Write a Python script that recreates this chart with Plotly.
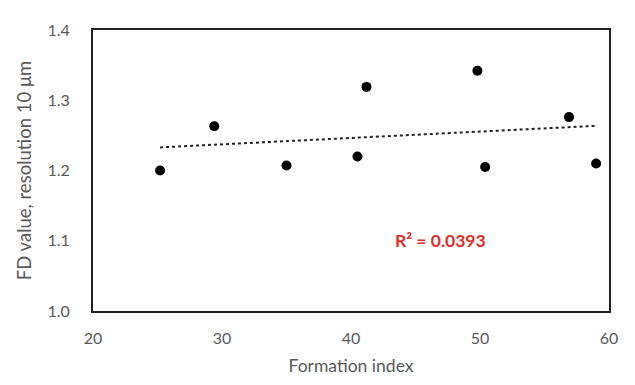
import numpy as np
import plotly.graph_objects as go

formation_index = [25.2, 29.4, 35.0, 40.5, 41.2, 49.8, 50.4, 56.9, 59.0]
fd_value = [1.200, 1.263, 1.207, 1.220, 1.319, 1.342, 1.205, 1.276, 1.210]
x_ticks = [20, 30, 40, 50, 60]
y_ticks = [1.0, 1.1, 1.2, 1.3, 1.4]
r2_label = "R² = 0.0393"

slope, intercept = np.polyfit(formation_index, fd_value, 1)
tx = [min(formation_index), max(formation_index)]
ty = [slope * v + intercept for v in tx]

fig = go.Figure()
fig.add_trace(go.Scatter(x=tx, y=ty, mode="lines",
                         line=dict(color="#222222", width=2, dash="dot"),
                         hoverinfo="skip", showlegend=False))
fig.add_trace(go.Scatter(x=formation_index, y=fd_value, mode="markers",
                         marker=dict(color="black", size=10),
                         showlegend=False))

fig.add_annotation(x=46.9, y=1.101, text="<b>" + r2_label + "</b>", showarrow=False,
                   font=dict(color="#e0302a", size=17.5, family="Lato"))

tick_font = dict(family="Lato", size=16, color="#595959")
fig.update_layout(
    width=622, height=377,
    margin=dict(l=85, r=15, t=19, b=70),
    paper_bgcolor="white", plot_bgcolor="white",
    font=dict(family="Lato", color="#595959"),
    xaxis=dict(range=[20, 60], tickvals=x_ticks, ticktext=[str(v) for v in x_ticks],
               showgrid=False, zeroline=False, showline=True, linecolor="#222222",
               linewidth=2, mirror=True, ticks="outside", ticklen=12, tickcolor="rgba(0,0,0,0)",
               tickfont=tick_font,
               title=dict(text="Formation index", font=dict(family="Lato", size=17.5, color="#595959"), standoff=14)),
    yaxis=dict(range=[1.0, 1.4], tickvals=y_ticks, ticktext=[f"{v:.1f}" for v in y_ticks],
               showgrid=False, zeroline=False, showline=True, linecolor="#222222",
               linewidth=2, mirror=True, ticks="outside", ticklen=18, tickcolor="rgba(0,0,0,0)",
               tickfont=tick_font,
               title=dict(text="FD value, resolution 10 μm", font=dict(family="Lato", size=18.5, color="#595959"), standoff=11)),
)

fig.write_html("out.html")
